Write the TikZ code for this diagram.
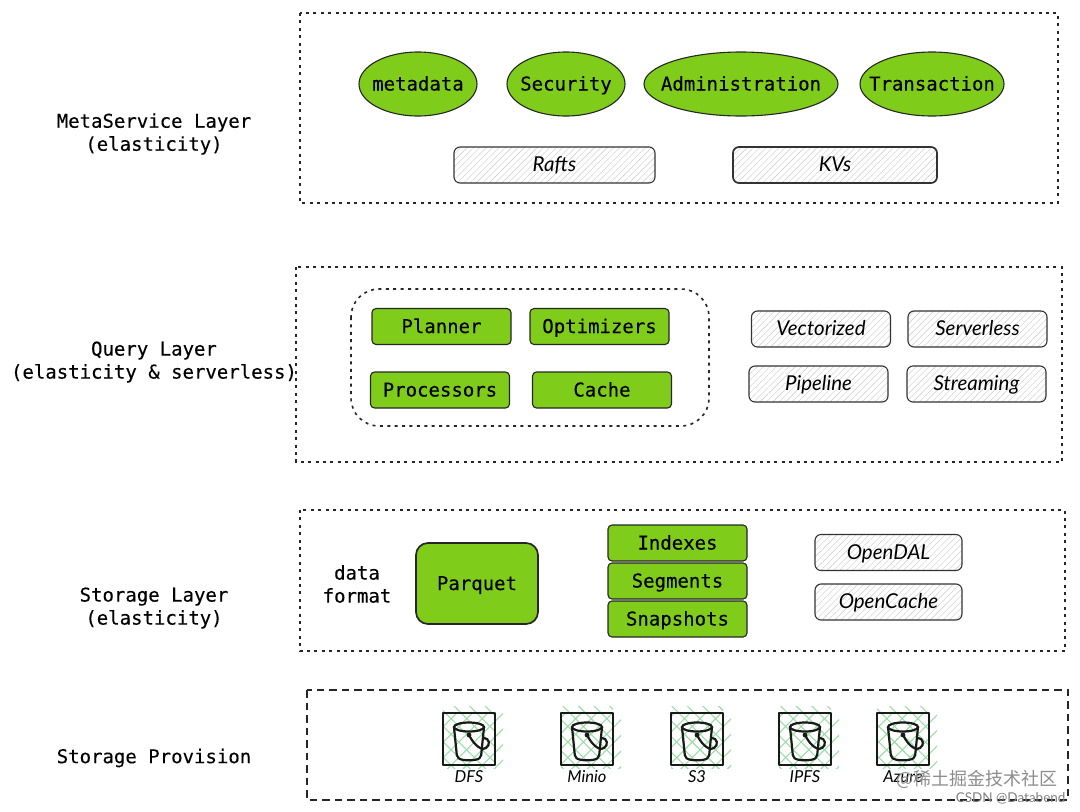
\documentclass[tikz,border=0pt]{standalone}
\usepackage{fontspec}
\setmonofont[FakeBold=0.25]{DejaVu Sans Mono}
\setsansfont{Lato}
\newfontfamily\cjkfont{Noto Sans CJK SC}
\usetikzlibrary{shapes.geometric,patterns.meta}
\definecolor{leafgreen}{HTML}{7FCC1B}
\definecolor{hatchgreen}{HTML}{9CDDA6}
\newcommand{\ovaltext}[1]{\makebox[0pt]{#1}}
\tikzset{
  monotext/.style={font=\ttfamily\fontsize{19}{23}\selectfont,align=center},
  handtext/.style={font=\sffamily\itshape\fontsize{20.5}{24}\selectfont},
  layerbox/.style={draw=black!85,line width=1.6pt,dash pattern=on 3pt off 4.4pt},
  provisionbox/.style={draw=black!85,line width=1.7pt,dash pattern=on 7.5pt off 5pt},
  greenoval/.style={ellipse,draw=black!85,line width=1.1pt,fill=leafgreen,inner sep=0pt,minimum height=64pt,monotext,text height=15pt,text depth=2pt},
  greenbox/.style={rectangle,rounded corners=4pt,draw=black!85,line width=1.1pt,fill=leafgreen,inner sep=0pt,minimum width=139pt,minimum height=36pt,monotext,text height=15pt,text depth=2pt},
  hatchbox/.style={rectangle,rounded corners=6pt,draw=black!80,line width=1.1pt,inner sep=0pt,minimum width=139pt,minimum height=36pt,handtext,text height=16pt,text depth=3pt,
    pattern={Lines[angle=45,distance=4.5pt,line width=0.4pt]},pattern color=black!22},
  bucketicon/.pic={
    \path[pattern={Lines[angle=45,distance=11pt,line width=1.1pt]},pattern color=hatchgreen] (0,0) rectangle (60,55);
    \path[pattern={Lines[angle=-45,distance=11pt,line width=1.1pt]},pattern color=hatchgreen] (0,-7) rectangle (52,55);
    \draw[line width=2.8pt,black!90,line join=round] (0,0) rectangle (52,52);
    \draw[line width=2.2pt,black!90,line cap=round,rounded corners=2pt]
      (11,14) -- (14,44) .. controls (19,48) and (33,48) .. (38,44) -- (41,14);
    \draw[line width=2.2pt,black!90] (26,14) ellipse (15 and 4.5);
    \fill[black!90] (26,22) circle (2.4pt);
    \draw[line width=2.2pt,black!90,line cap=round] (26,22) .. controls (32,34) and (40,38) .. (43,35) .. controls (48,32) and (46,25) .. (41,25);
  }
}
\begin{document}
\begin{tikzpicture}[x=1pt,y=-1pt]
  \useasboundingbox (0,0) rectangle (1080,812);

  % layers
  \draw[layerbox] (300,13) rectangle (1058,203);
  \draw[layerbox] (296,267) rectangle (1062,462);
  \draw[layerbox] (300,510) rectangle (1065,651);
  \draw[provisionbox] (307,690) rectangle (1068,800);
  \draw[layerbox,rounded corners=28pt] (351,289) rectangle (709,426);

  \node[monotext] (metalabel) at (154,134) {MetaService Layer\\(elasticity)};
  \node[monotext] (querylabel) at (154,362) {Query Layer\\(elasticity \& serverless)};
  \node[monotext] (storagelabel) at (154,608) {Storage Layer\\(elasticity)};
  \node[monotext] (provisionlabel) at (154,758) {Storage Provision};
  \node[monotext] (formatlabel) at (357,584) {data\\format};

  % meta service
  \node[greenoval,minimum width=118pt] (metadata) at (418,84) {\ovaltext{metadata}};
  \node[greenoval,minimum width=118pt] (security) at (566,84) {\ovaltext{Security}};
  \node[greenoval,minimum width=194pt] (administration) at (741,84) {\ovaltext{Administration}};
  \node[greenoval,minimum width=144pt] (transaction) at (932,84) {\ovaltext{Transaction}};
  \node[hatchbox,minimum width=201pt] (rafts) at (554.5,165) {Rafts};
  \node[hatchbox,minimum width=204pt,line width=1.7pt] (kvs) at (835,165) {KVs};

  % query
  \node[greenbox] (planner) at (441.5,326.5) {Planner};
  \node[greenbox] (optimizers) at (599.5,326.5) {Optimizers};
  \node[greenbox] (processors) at (440,390) {Processors};
  \node[greenbox] (cache) at (602,390) {Cache};
  \node[hatchbox] (vectorized) at (821,329) {Vectorized};
  \node[hatchbox] (serverless) at (977.5,329) {Serverless};
  \node[hatchbox] (pipeline) at (818.5,384) {Pipeline};
  \node[hatchbox] (streaming) at (976.5,384) {Streaming};

  % storage
  \node[greenbox,minimum width=122pt,minimum height=81pt,rounded corners=12pt,line width=1.7pt] (parquet) at (477,583.5) {Parquet};
  \node[greenbox] (indexes) at (677.5,543) {Indexes};
  \node[greenbox] (segments) at (677.5,581) {Segments};
  \node[greenbox] (snapshots) at (677.5,619) {Snapshots};
  \node[hatchbox,minimum width=147pt] (opendal) at (888.5,552.5) {OpenDAL};
  \node[hatchbox,minimum width=147pt] (opencache) at (888.5,602) {OpenCache};

  % providers
  \foreach \x/\name/\txt in {443/dfs/DFS,561/minio/Minio,671/sthree/S3,779/ipfs/IPFS,877/azure/Azure}{
    \pic at (\x,713) {bucketicon};
    \node[handtext,font=\sffamily\itshape\fontsize{16.5}{18}\selectfont] (\name) at (\x+26,777) {\txt};
  }

  % watermark
  \node[text=black!45,font=\cjkfont\fontsize{18}{22}\selectfont,anchor=east] (markone) at (1061,779) {@稀土掘金技术社区};
  \node[text=black!50,font=\sffamily\fontsize{13.5}{16}\selectfont,anchor=east] (marktwo) at (1069,798) {CSDN @Databend};
\end{tikzpicture}
\end{document}
